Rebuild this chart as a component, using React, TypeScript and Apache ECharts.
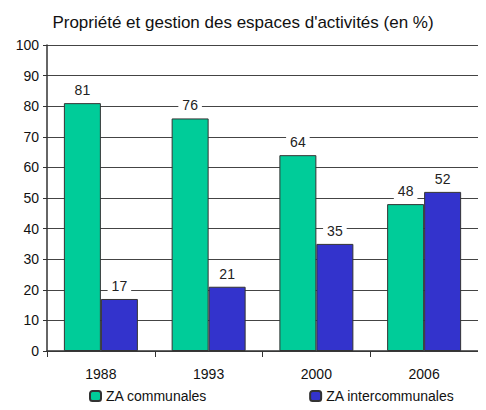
import React, { useEffect, useRef } from "react";
import * as echarts from "echarts";

const categories = ["1988", "1993", "2000", "2006"];
const communales = [81, 76, 64, 48];
const intercommunales = [17, 21, 35, 52];
const seriesNames = ["ZA communales", "ZA intercommunales"];
const titleText = "Propriété et gestion des espaces d'activités (en %)";

export default function App() {
  const ref = useRef<HTMLDivElement>(null);
  useEffect(() => {
    if (!ref.current) return;
    const chart = echarts.init(ref.current, undefined, { renderer: "svg" });
    const font = "'Liberation Sans', Arial, sans-serif";
    const label = {
      show: true,
      position: "top" as const,
      distance: 5,
      color: "#222",
      fontSize: 14,
      fontFamily: font,
      backgroundColor: "#fff",
      padding: [1, 4, 1, 4],
    };
    chart.setOption({
      animation: false,
      textStyle: { fontFamily: font },
      title: {
        text: titleText,
        left: "center",
        top: 1,
        textStyle: { fontSize: 17, fontWeight: "normal", color: "#111", fontFamily: font },
      },
      legend: {
        top: 376,
        left: 76,
        itemGap: 102,
        itemWidth: 11,
        itemHeight: 10,
        textStyle: { fontSize: 14, color: "#111", fontFamily: font },
        data: seriesNames,
      },
      grid: { left: 39, right: -18, top: 37, bottom: 59 },
      xAxis: {
        type: "category",
        data: categories,
        axisLine: { lineStyle: { color: "#333", width: 1.5 } },
        axisTick: { show: true, length: 6, lineStyle: { color: "#333" } },
        axisLabel: { fontSize: 14, color: "#111", margin: 16, fontFamily: font },
      },
      yAxis: {
        type: "value",
        min: 0,
        max: 100,
        interval: 10,
        axisLine: { show: true, lineStyle: { color: "#333", width: 1.5 } },
        axisTick: { show: true, length: 4, lineStyle: { color: "#333" } },
        axisLabel: { fontSize: 14, color: "#111", margin: 8, fontFamily: font },
        splitLine: { lineStyle: { color: "#444", width: 1 } },
      },
      series: [
        {
          name: seriesNames[0],
          type: "bar",
          data: communales,
          barWidth: 37,
          barGap: "0%",
          itemStyle: { color: "#00CC99", borderColor: "#333", borderWidth: 1 },
          label,
        },
        {
          name: seriesNames[1],
          type: "bar",
          data: intercommunales,
          barWidth: 37,
          barGap: "0%",
          itemStyle: { color: "#3333CC", borderColor: "#333", borderWidth: 1 },
          label,
        },
      ],
    });
    return () => chart.dispose();
  }, []);
  return <div ref={ref} style={{ width: 470, height: 402, marginBottom: -8 }} />;
}
